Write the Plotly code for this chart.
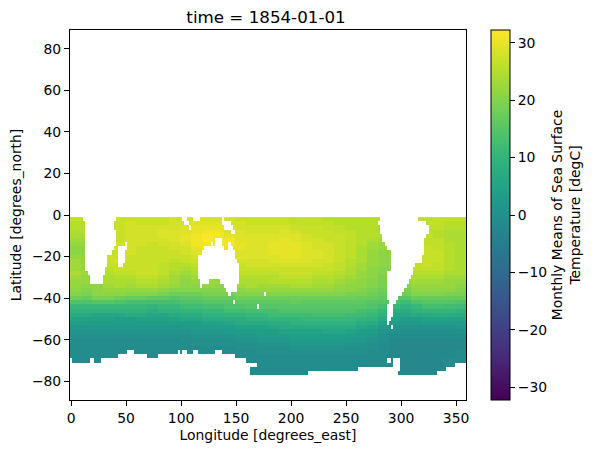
import plotly.graph_objects as go

# sea surface temperature, one list per latitude,
# each number holds for 10 degrees of longitude (0-8, 10-18, ... 350-358)
lats = [-2, -4, -6, -8, -10, -12, -14, -16, -18, -20, -22, -24, -26, -28, -30, -32, -34, -36, -38,
        -40, -42, -44, -46, -48, -50, -52, -54, -56, -58, -60, -62, -64, -66, -68, -70, -72, -74, -76]
lons = list(range(0, 360, 2))

sst_rows = [
    [26, 26, 26, 26, 27, 27, 27, 27, 27, 28, 28, 28, 28, 28, 28, 27, 27, 27, 27, 27, 26, 26, 26, 25, 25, 25, 25, 25, 25, 25, 26, 26, 26, 26, 26, 26],
    [25, 25, 25, 26, 27, 28, 27, 27, 27, 28, 28, 29, 29, 29, 28, 28, 27, 27, 27, 27, 26, 26, 26, 26, 25, 25, 25, 25, 24, 25, 26, 26, 26, 26, 25, 25],
    [25, 25, 25, 26, 27, 28, 28, 28, 28, 28, 29, 30, 30, 30, 29, 28, 28, 28, 28, 28, 27, 27, 27, 26, 26, 25, 25, 25, 24, 25, 25, 25, 26, 26, 25, 25],
    [24, 25, 25, 26, 27, 28, 28, 28, 29, 29, 29, 30, 31, 31, 29, 29, 28, 28, 28, 29, 28, 27, 27, 27, 26, 26, 25, 25, 24, 25, 25, 25, 26, 25, 24, 24],
    [24, 24, 24, 26, 27, 28, 28, 28, 29, 29, 30, 31, 32, 31, 30, 29, 29, 29, 29, 29, 29, 28, 27, 27, 27, 26, 25, 25, 24, 24, 25, 25, 26, 25, 24, 24],
    [23, 23, 23, 26, 27, 28, 28, 28, 28, 29, 30, 31, 32, 31, 31, 29, 29, 29, 29, 30, 29, 28, 28, 27, 27, 26, 25, 24, 23, 24, 25, 25, 26, 26, 24, 24],
    [22, 22, 23, 26, 28, 28, 28, 27, 28, 28, 29, 31, 31, 31, 31, 30, 29, 29, 30, 30, 30, 29, 28, 28, 27, 26, 25, 23, 22, 23, 25, 25, 26, 26, 25, 24],
    [21, 21, 23, 26, 28, 28, 27, 27, 27, 28, 28, 30, 31, 30, 30, 30, 29, 29, 30, 30, 30, 29, 28, 28, 27, 26, 24, 23, 22, 23, 25, 26, 27, 26, 25, 24],
    [21, 21, 23, 26, 27, 28, 27, 27, 27, 27, 28, 29, 30, 30, 30, 29, 29, 29, 30, 30, 30, 29, 29, 28, 27, 26, 24, 22, 21, 22, 25, 26, 27, 27, 25, 24],
    [22, 22, 24, 27, 27, 27, 27, 27, 27, 27, 27, 28, 29, 29, 29, 29, 29, 29, 29, 30, 30, 29, 29, 28, 27, 26, 24, 22, 21, 21, 26, 26, 27, 27, 25, 24],
    [23, 22, 24, 27, 28, 27, 27, 27, 27, 26, 27, 27, 28, 28, 28, 28, 28, 28, 29, 29, 29, 29, 28, 28, 27, 25, 24, 22, 21, 21, 26, 27, 27, 27, 25, 24],
    [23, 22, 24, 26, 27, 27, 27, 27, 26, 25, 25, 26, 27, 27, 27, 27, 28, 28, 28, 28, 28, 28, 28, 27, 26, 25, 23, 22, 21, 21, 26, 26, 27, 26, 25, 24],
    [23, 22, 24, 26, 27, 27, 27, 27, 26, 25, 24, 25, 26, 26, 27, 27, 27, 27, 27, 27, 27, 27, 27, 27, 26, 24, 23, 21, 20, 20, 25, 26, 26, 26, 25, 24],
    [24, 23, 23, 25, 26, 26, 27, 27, 26, 24, 23, 24, 25, 25, 26, 26, 26, 26, 26, 27, 27, 27, 26, 26, 25, 24, 22, 21, 20, 20, 24, 25, 25, 25, 24, 24],
    [23, 22, 22, 24, 25, 25, 26, 26, 25, 23, 22, 23, 23, 23, 24, 25, 25, 25, 25, 26, 26, 26, 25, 25, 24, 23, 22, 21, 19, 19, 22, 24, 24, 24, 23, 23],
    [22, 22, 22, 24, 24, 24, 25, 25, 24, 23, 21, 22, 23, 22, 23, 24, 24, 24, 25, 25, 25, 25, 24, 24, 23, 22, 21, 20, 19, 19, 22, 23, 23, 23, 22, 22],
    [22, 21, 21, 23, 24, 23, 24, 24, 23, 22, 21, 21, 22, 21, 22, 23, 24, 23, 23, 23, 24, 24, 23, 23, 22, 21, 21, 20, 19, 19, 20, 22, 22, 22, 22, 21],
    [21, 20, 21, 22, 22, 22, 22, 22, 21, 20, 20, 20, 20, 20, 20, 21, 22, 22, 22, 22, 22, 22, 22, 22, 21, 21, 20, 19, 18, 18, 19, 21, 21, 21, 21, 20],
    [20, 19, 21, 21, 21, 20, 20, 20, 19, 18, 18, 18, 19, 19, 19, 20, 20, 20, 20, 20, 20, 20, 20, 20, 20, 19, 19, 18, 17, 17, 18, 20, 20, 20, 19, 19],
    [18, 17, 19, 19, 18, 17, 17, 16, 16, 15, 16, 16, 17, 17, 17, 18, 18, 18, 18, 18, 18, 18, 18, 18, 18, 18, 17, 17, 16, 15, 15, 17, 17, 17, 17, 17],
    [14, 14, 15, 15, 14, 13, 13, 13, 13, 13, 14, 14, 15, 15, 15, 16, 16, 16, 16, 16, 17, 16, 16, 16, 16, 16, 16, 15, 15, 14, 12, 14, 15, 15, 15, 14],
    [11, 11, 11, 11, 11, 11, 11, 10, 11, 11, 12, 12, 13, 13, 14, 14, 15, 15, 15, 15, 15, 15, 15, 15, 15, 15, 15, 14, 13, 11, 9, 11, 13, 13, 12, 12],
    [9, 9, 9, 9, 9, 9, 9, 8, 9, 9, 10, 10, 11, 11, 12, 12, 13, 13, 13, 14, 14, 14, 14, 14, 14, 14, 13, 12, 11, 8, 7, 9, 10, 10, 10, 9],
    [7, 7, 6, 6, 6, 7, 7, 6, 6, 7, 8, 8, 9, 9, 10, 10, 11, 11, 12, 12, 12, 12, 13, 13, 13, 12, 12, 11, 9, 6, 6, 7, 7, 8, 8, 7],
    [5, 5, 5, 5, 4, 4, 5, 5, 5, 5, 6, 6, 7, 7, 8, 8, 9, 9, 10, 10, 10, 11, 11, 11, 11, 11, 10, 9, 7, 5, 4, 4, 5, 5, 5, 5],
    [4, 3, 3, 3, 3, 3, 3, 3, 3, 4, 4, 4, 5, 5, 6, 7, 7, 7, 8, 8, 9, 9, 9, 9, 9, 9, 8, 7, 5, 3, 2, 2, 3, 3, 3, 3],
    [2, 2, 2, 2, 2, 2, 2, 2, 2, 2, 3, 3, 3, 4, 4, 5, 5, 5, 6, 7, 7, 7, 7, 7, 7, 7, 6, 5, 3, 1, 1, 1, 1, 1, 1, 2],
    [1, 1, 1, 1, 1, 1, 1, 1, 1, 1, 1, 2, 2, 2, 3, 3, 3, 4, 4, 5, 5, 5, 5, 6, 6, 5, 4, 3, 1, 0, 0, 0, 0, 0, 0, 0],
    [0, 0, 0, 0, 0, 0, 0, 0, 0, 0, 0, 1, 1, 1, 1, 2, 2, 3, 3, 3, 4, 4, 4, 4, 4, 4, 3, 2, 0, -1, -1, -1, -1, -1, -1, -1],
    [-1, -1, -1, -1, -1, -1, -1, -1, -1, -1, 0, 0, 0, 0, 0, 1, 1, 2, 2, 2, 3, 3, 3, 3, 3, 2, 2, 1, 0, -2, -2, -2, -2, -2, -2, -2],
    [-1, -1, -1, -1, -1, -1, -1, -1, -1, -1, -1, 0, 0, 0, 0, 0, 0, 1, 1, 1, 2, 2, 2, 2, 2, 1, 1, 0, -1, -2, -2, -2, -2, -2, -2, -2],
    [-1, -1, -1, -1, -1, -1, -1, -1, -1, -1, -1, -1, -1, -1, -1, 0, 0, 0, 0, 0, 1, 1, 1, 1, 1, 0, 0, 0, -1, -2, -2, -2, -2, -2, -2, -2],
    [-1, -1, -1, -1, -1, -1, -1, -1, -1, -1, -1, -1, -1, -1, -1, -1, -1, 0, 0, 0, 0, 0, 0, 0, 0, 0, 0, -1, -1, -2, -2, -2, -2, -2, -2, -1],
    [-1, -1, -1, -1, -1, -1, -1, -1, -1, -1, -1, -1, -1, -1, -1, -1, -1, -1, -1, -1, -1, -1, -1, -1, -1, -1, -1, -1, -1, -2, -2, -2, -2, -2, -2, -1],
    [-1, -1, -1, -1, -1, -1, -1, -1, -1, -1, -1, -1, -1, -1, -1, -1, -1, -1, -1, -1, -1, -1, -1, -1, -1, -1, -1, -1, -1, -2, -2, -2, -2, -2, -1, -1],
    [-1, -1, -1, -1, -1, -1, -1, -1, -1, -1, -1, -1, -1, -1, -1, -1, -1, -1, -1, -1, -1, -1, -1, -1, -1, -1, -1, -1, -1, -2, -2, -2, -2, -2, -1, -1],
    [-1, -1, -1, -1, -1, -1, -1, -1, -1, -1, -1, -1, -1, -1, -1, -1, -1, -1, -1, -1, -1, -1, -1, -1, -1, -1, -1, -1, -1, -2, -2, -2, -2, -2, -1, -1],
    [-1, -1, -1, -1, -1, -1, -1, -1, -1, -1, -1, -1, -1, -1, -1, -1, -1, -1, -1, -1, -1, -1, -1, -1, -1, -1, -1, -1, -1, -2, -2, -2, -2, -2, -1, -1],
]

# land (no data) per latitude, as (first lon, last lon)
land_spans = [
    [(12, 40), (102, 104), (112, 116), (138, 138), (282, 314)],
    [(14, 38), (104, 106), (138, 144), (280, 322)],
    [(14, 38), (108, 108), (140, 146), (282, 324)],
    [(14, 40), (146, 148), (282, 324)],
    [(14, 40), (284, 322)],
    [(14, 40), (132, 136), (284, 320)],
    [(14, 40), (50, 50), (128, 128), (132, 136), (144, 144), (286, 320)],
    [(14, 38), (44, 50), (122, 138), (144, 146), (288, 320)],
    [(14, 36), (44, 48), (120, 148), (292, 320)],
    [(14, 32), (44, 48), (116, 148), (292, 318)],
    [(14, 32), (44, 48), (116, 150), (292, 318)],
    [(14, 32), (44, 46), (116, 152), (292, 312)],
    [(14, 30), (116, 152), (292, 310)],
    [(16, 30), (116, 152), (288, 310)],
    [(18, 28), (116, 152), (288, 308)],
    [(18, 28), (118, 124), (136, 152), (288, 306)],
    [(118, 118), (140, 150), (288, 304)],
    [(142, 150), (288, 302)],
    [(144, 144), (176, 176), (288, 300)],
    [(288, 296)],
    [(148, 148), (290, 294)],
    [(170, 170), (288, 292)],
    [(288, 292)],
    [(288, 292)],
    [(288, 290)],
    [(288, 288)],
    [(292, 292)],
    [],
    [],
    [],
    [],
    [],
    [(52, 56), (98, 98), (102, 104), (112, 114), (132, 136)],
    [(44, 68), (80, 148)],
    [(0, 0), (18, 20), (28, 158), (288, 290), (294, 298)],
    [(0, 168), (294, 298), (350, 358)],
    [(0, 162), (262, 298), (342, 358)],
    [(0, 162), (216, 296), (334, 358)],
]

color_ticks = [-30, -20, -10, 0, 10, 20, 30]
lon_ticks = [0, 50, 100, 150, 200, 250, 300, 350]
lat_ticks = [-80, -60, -40, -20, 0, 20, 40, 60, 80]

z = []
for row, spans in zip(sst_rows, land_spans):
    line = []
    for lon in lons:
        if any(a <= lon <= b for a, b in spans):
            line.append(None)
        else:
            line.append(row[lon // 10])
    z.append(line)

fig = go.Figure()
fig.add_trace(go.Heatmap(
    x=lons, y=lats, z=z,
    colorscale="Viridis", zmin=-32.2, zmax=32.2,
    colorbar=dict(
        x=1.0623, xanchor="left", xref="paper", y=0.5, yanchor="middle", yref="paper",
        len=1, lenmode="fraction", thickness=19, thicknessmode="pixels",
        xpad=0, ypad=0, outlinecolor="black", outlinewidth=1,
        tickvals=color_ticks, ticks="outside", ticklen=5, tickcolor="black",
        tickfont=dict(size=13.9, color="black"),
        title=dict(text="Monthly Means of Sea Surface<br>Temperature [degC]", side="right",
                   font=dict(size=13.9, color="black")),
    ),
))

fig.update_xaxes(
    range=[-1, 359], tickvals=lon_ticks, ticks="outside", ticklen=5, tickcolor="black",
    showline=True, mirror=True, linecolor="black", linewidth=1, showgrid=False, zeroline=False,
    title=dict(text="Longitude [degrees_east]", standoff=5, font=dict(size=13.9)),
    tickfont=dict(size=13.9),
)
fig.update_yaxes(
    range=[-89, 89], tickvals=lat_ticks, ticks="outside", ticklen=5, tickcolor="black",
    showline=True, mirror=True, linecolor="black", linewidth=1, showgrid=False, zeroline=False,
    title=dict(text="Latitude [degrees_north]", standoff=7, font=dict(size=13.9)),
    tickfont=dict(size=13.9),
)
fig.update_layout(
    width=593, height=453,
    margin=dict(l=69.7, r=126.7, t=30, b=53, autoexpand=False),
    paper_bgcolor="white", plot_bgcolor="white",
    font=dict(family="DejaVu Sans", color="black"),
    title=dict(text="time = 1854-01-01", x=266 / 593, xanchor="center",
               y=1 - 17 / 453, yanchor="middle", font=dict(size=16.7, color="black")),
)

fig.write_html("out.html", config={"displayModeBar": False},
               post_script="document.body.style.margin='0';")
